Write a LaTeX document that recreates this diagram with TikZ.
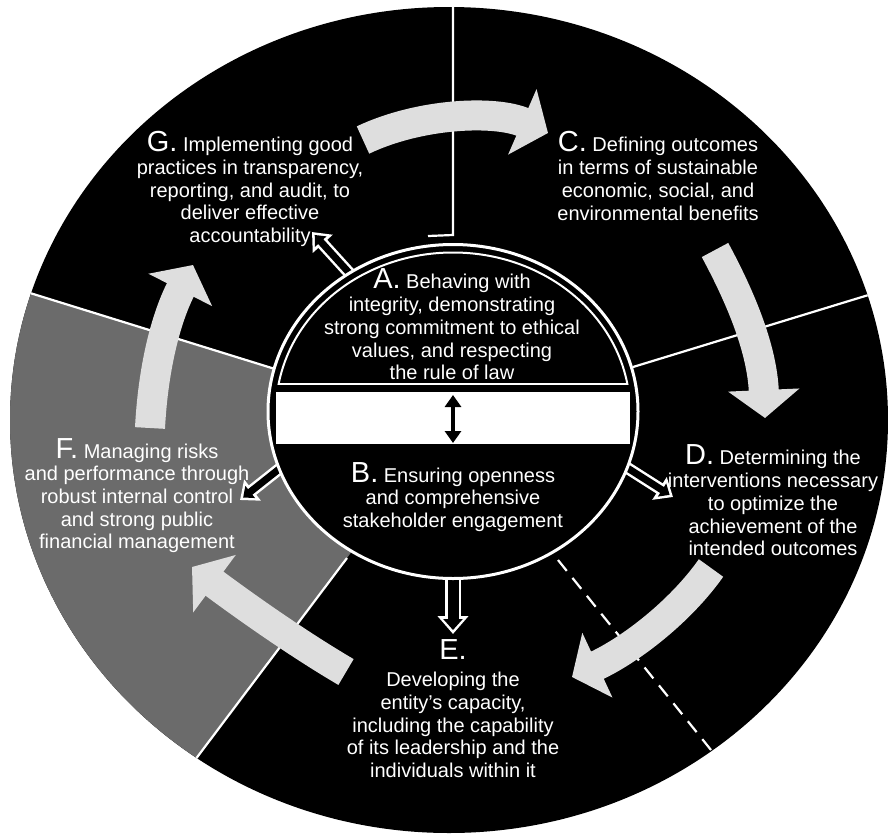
\documentclass[tikz,border=0pt]{standalone}
\usepackage{fontspec}
\setmainfont{Liberation Sans}
\usetikzlibrary{arrows.meta}
\newcommand{\biglet}[1]{{\fontsize{29}{22.7}\selectfont #1}}
\begin{document}
\begin{tikzpicture}[x=1pt,y=-1pt,
  bigarrow/.style={draw=black!13, line width=30pt, -{Triangle[width=70pt,length=28pt]}},
  divider/.style={draw=white, line width=2.2pt},
  txt/.style={text=white, align=center, inner sep=0pt, font=\fontsize{20}{22.7}\selectfont},
  hollowout/.style={draw=white, line width=12pt, -{Triangle[width=26pt,length=16pt]}},
  hollowin/.style={draw=black, line width=7pt, -{Triangle[width=15pt,length=9pt]}, shorten >=4pt},
  bighollowout/.style={draw=white, line width=16pt, -{Triangle[width=30pt,length=18pt]}},
  bighollowin/.style={draw=black, line width=11pt, -{Triangle[width=19pt,length=11pt]}, shorten >=4pt},
]
\fill[white] (0,0) rectangle (888,835);
\useasboundingbox (0,0) rectangle (888,835);
\coordinate (O) at (449,420);
\coordinate (I) at (453,411.5);
\begin{scope}
  \clip (O) ellipse [x radius=439, y radius=413];
  \fill[black] (0,0) rectangle (888,835);
  % textured sector F
  \fill[black!58] (I) -- (275,369) -- (-215,217) -- (-400,600) -- (43,962) -- (347,558) -- cycle;
  % dividers
  \coordinate (l1a) at (453,-10); \coordinate (l1b) at (453,235); \coordinate (l1c) at (428,236);
  \draw[divider] (l1a) -- (l1b) -- (l1c);
  \coordinate (l2a) at (275,369); \coordinate (l2b) at (-215,217);
  \draw[divider] (l2a) -- (l2b);
  \coordinate (l3a) at (633,367); \coordinate (l3b) at (996,256);
  \draw[divider] (l3a) -- (l3b);
  \coordinate (l4a) at (347,558); \coordinate (l4b) at (43,962);
  \draw[divider] (l4a) -- (l4b);
  \coordinate (l5a) at (558,560); \coordinate (l5b) at (740,786);
  \draw[divider, dash pattern=on 14pt off 9pt] (l5a) -- (l5b);
  % big cycle arrows
  \coordinate (ga1) at (363,140); \coordinate (ga2) at (548,133);
  \draw[bigarrow] (ga1) .. controls (420,113) and (495,110) .. (ga2);
  \coordinate (ca1) at (715,250); \coordinate (ca2) at (765,418);
  \draw[bigarrow] (ca1) .. controls (742,300) and (762,350) .. (ca2);
  \coordinate (da1) at (711,568); \coordinate (da2) at (572,677);
  \draw[bigarrow] (da1) .. controls (680,612) and (630,650) .. (da2);
  \coordinate (ea1) at (346,672); \coordinate (ea2) at (192,567);
  \draw[bigarrow] (ea1) .. controls (300,645) and (250,610) .. (ea2);
  \coordinate (fa1) at (150,428); \coordinate (fa2) at (193,265);
  \draw[bigarrow] (fa1) .. controls (153,370) and (165,320) .. (fa2);
\end{scope}
% hollow arrows from the centre
\coordinate (gA) at (352,276); \coordinate (gB) at (312,232);
\coordinate (dA) at (618,462); \coordinate (dB) at (673,497);
\coordinate (fA) at (288,462); \coordinate (fB) at (240,500);
\coordinate (eA) at (453,570); \coordinate (eB) at (453,634);
\foreach \a/\b in {gA/gB, dA/dB, fA/fB}{
  \draw[hollowout] (\a) -- (\b);
  \draw[hollowin] (\a) -- (\b);
}
\draw[bighollowout] (eA) -- (eB);
\draw[bighollowin] (eA) -- (eB);
% inner circle
\filldraw[fill=black, draw=white, line width=3pt] (I) ellipse [x radius=185, y radius=167];
\begin{scope}
  \clip (0,0) rectangle (888,384);
  \draw[white, line width=2pt] (I) ellipse [x radius=177, y radius=159];
\end{scope}
\coordinate (abl) at (278.6,384); \coordinate (abr) at (627.4,384);
\draw[white, line width=2pt] (abl) -- (abr);
\fill[white] (276,392) rectangle (630,444);
\coordinate (dbt) at (453,395); \coordinate (dbb) at (453,443);
\draw[black, line width=4.5pt, {Triangle[width=16pt,length=12pt]}-{Triangle[width=16pt,length=12pt]}] (dbt) -- (dbb);
% texts
\node[txt] (gtext) at (250,189) {\biglet{G.} Implementing good\\practices in transparency,\\reporting, and audit, to\\deliver effective\\accountability};
\node[txt] (ctext) at (658,176) {\biglet{C.} Defining outcomes\\in terms of sustainable\\economic, social, and\\environmental benefits};
\node[txt] (atext) at (452,324.5) {\biglet{A.} Behaving with\\integrity, demonstrating\\strong commitment to ethical\\values, and respecting\\the rule of law};
\node[txt] (btext) at (453,497) {\biglet{B.} Ensuring openness\\and comprehensive\\stakeholder engagement};
\node[txt] (dtext) at (773,500.5) {\biglet{D.} Determining the\\interventions necessary\\to optimize the\\achievement of the\\intended outcomes};
\node[txt] (etext) at (453,708.5) {\biglet{E.}\\[5pt]Developing the\\entity's capacity,\\including the capability\\of its leadership and the\\individuals within it};
\node[txt] (ftext) at (137,495.5) {\biglet{F.} Managing risks\\and performance through\\robust internal control\\and strong public\\financial management};
\end{tikzpicture}
\end{document}
